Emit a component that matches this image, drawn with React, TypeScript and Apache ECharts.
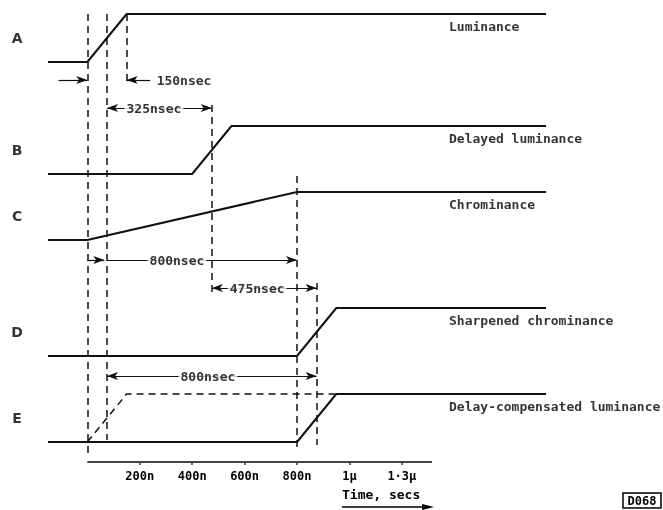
import React, { useEffect, useRef } from 'react';
import * as echarts from 'echarts';

// ---- data ----
const signalLetters = ['A', 'B', 'C', 'D', 'E'];
const signalNames = ['Luminance', 'Delayed luminance', 'Chrominance', 'Sharpened chrominance', 'Delay-compensated luminance'];
const baseLevels = [400, 288, 222, 106, 20];
const stepHeight = 48;
const tStart = -150;
const tEnd = 1750;

const timesA = [tStart, 0, 150, tEnd];
const timesB = [tStart, 400, 550, tEnd];
const timesC = [tStart, 0, 800, tEnd];
const timesD = [tStart, 800, 950, tEnd];
const timesE = [tStart, 800, 950, tEnd];
const levelsStep = [0, 0, 1, 1];
const signalTimes = [timesA, timesB, timesC, timesD, timesE];

const timesEDashed = [0, 150, 950];
const levelsEDashed = [0, 1, 1];

const tickValues = [200, 400, 600, 800, 1000, 1200];
const tickLabels = ['200n', '400n', '600n', '800n', '1µ', '1·3µ'];
const axisEnd = 1315;

const extTimes = [0, 75, 150, 475, 800, 875];
const extFrom = [448, 448, 448, 357, 286, 179];
const extTo = [8, 22, 377, 167, 10, 17];

const dimFrom = [-110, 240, 75, 0, 75, 475, 75];
const dimTo = [0, 150, 475, 65, 800, 875, 875];
const dimY = [382, 382, 354, 202, 202, 174, 86];
const dimStartArrow = [false, false, true, false, false, true, true];

const dimTexts = ['150nsec', '325nsec', '800nsec', '475nsec', '800nsec'];
const dimTextT = [369, 254, 342, 648, 460];
const dimTextY = [382, 354, 202, 174, 86];

const letterT = -268;
const nameT = 1378;

const INK = '#000';
const MONO = '"DejaVu Sans Mono", monospace';

export default function App() {
  const ref = useRef<HTMLDivElement>(null);
  useEffect(() => {
    document.body.style.margin = '0';
    const chart = echarts.init(ref.current!, undefined, { renderer: 'svg' });

    const signalSeries = signalTimes.map((ts, i) => ({
      type: 'line',
      name: signalNames[i],
      data: ts.map((t, k) => [t, baseLevels[i] + stepHeight * levelsStep[k]]),
      symbol: 'none',
      lineStyle: { color: '#111', width: 2 },
      silent: true,
      z: 3,
    }));

    const option: any = {
      animation: false,
      grid: { left: 48, right: 117, top: 0, bottom: 48 },
      xAxis: {
        type: 'value',
        min: tStart,
        max: tEnd,
        splitLine: { show: false },
        axisLine: { show: false },
        axisTick: { show: true, customValues: tickValues, length: 3, lineStyle: { color: '#333', width: 1.5 } },
        axisLabel: {
          customValues: tickValues,
          margin: 8,
          fontFamily: MONO,
          fontSize: 12,
          fontWeight: 'bold',
          color: INK,
          formatter: (v: number) => tickLabels[tickValues.indexOf(v)] ?? '',
        },
      },
      yAxis: { type: 'value', min: 0, max: 462, show: false },
      graphic: [
        { type: 'text', left: 342, top: 488, style: { text: 'Time, secs', font: `bold 13px ${MONO}`, fill: INK } },
        { type: 'line', shape: { x1: 342, y1: 507, x2: 424, y2: 507 }, style: { stroke: INK, lineWidth: 1.5 } },
        { type: 'polygon', shape: { points: [[434, 507], [422, 504], [422, 510]] }, style: { fill: INK } },
        { type: 'rect', shape: { x: 623, y: 493, width: 38, height: 15 }, style: { fill: 'none', stroke: INK, lineWidth: 1.5 } },
        { type: 'text', x: 642, y: 501, style: { text: 'D068', font: `bold 12px ${MONO}`, fill: INK, align: 'center', verticalAlign: 'middle' } },
      ],
      series: [
        ...signalSeries,
        {
          type: 'line',
          name: 'E reference',
          data: timesEDashed.map((t, k) => [t, baseLevels[4] + stepHeight * levelsEDashed[k]]),
          symbol: 'none',
          lineStyle: { color: '#111', width: 1.5, type: [7, 5] },
          silent: true,
          z: 2,
        },
        {
          type: 'line',
          name: 'axis',
          data: [[0, 0], [axisEnd, 0]],
          symbol: 'none',
          lineStyle: { color: '#444', width: 2 },
          silent: true,
        },
        {
          type: 'line',
          name: 'extension',
          data: [],
          markLine: {
            silent: true,
            symbol: ['none', 'none'],
            label: { show: false },
            lineStyle: { color: '#111', width: 1.5, type: [7, 5] },
            data: extTimes.map((t, i) => [{ coord: [t, extFrom[i]] }, { coord: [t, extTo[i]] }]),
          },
        },
        {
          type: 'line',
          name: 'dimension',
          data: [],
          markLine: {
            silent: true,
            symbolSize: [6, 11],
            label: { show: false },
            lineStyle: { color: '#111', width: 1.2, type: 'solid' },
            data: dimFrom.map((t, i) => [
              { coord: [t, dimY[i]], symbol: dimStartArrow[i] ? 'arrow' : 'none' },
              { coord: [dimTo[i], dimY[i]], symbol: 'arrow' },
            ]),
          },
        },
        {
          type: 'scatter',
          name: 'dimension text',
          clip: false,
          symbolSize: 1,
          itemStyle: { color: 'transparent' },
          silent: true,
          z: 10,
          data: dimTexts.map((s, i) => ({ value: [dimTextT[i], dimTextY[i]], name: s })),
          label: {
            show: true,
            position: 'inside',
            formatter: '{b}',
            fontFamily: MONO,
            fontSize: 13,
            fontWeight: 'bold',
            color: INK,
            backgroundColor: '#fff',
            padding: [1, 2],
          },
        },
        {
          type: 'scatter',
          name: 'letters',
          clip: false,
          symbolSize: 1,
          itemStyle: { color: 'transparent' },
          silent: true,
          data: signalLetters.map((l, i) => ({ value: [letterT, baseLevels[i] + 24], name: l })),
          label: {
            show: true,
            position: 'inside',
            formatter: '{b}',
            fontFamily: '"DejaVu Sans", sans-serif',
            fontSize: 14,
            fontWeight: 'bold',
            color: INK,
          },
        },
        {
          type: 'scatter',
          name: 'names',
          clip: false,
          symbolSize: 1,
          itemStyle: { color: 'transparent' },
          silent: true,
          data: signalNames.map((n, i) => ({ value: [nameT, baseLevels[i] + stepHeight - 12], name: n })),
          label: {
            show: true,
            position: 'right',
            distance: 0,
            formatter: '{b}',
            fontFamily: MONO,
            fontSize: 13,
            fontWeight: 'bold',
            color: INK,
          },
        },
      ],
    };
    chart.setOption(option);
    return () => chart.dispose();
  }, []);
  return <div ref={ref} style={{ position: 'fixed', left: 0, top: 0, width: 663, height: 510 }} />;
}
